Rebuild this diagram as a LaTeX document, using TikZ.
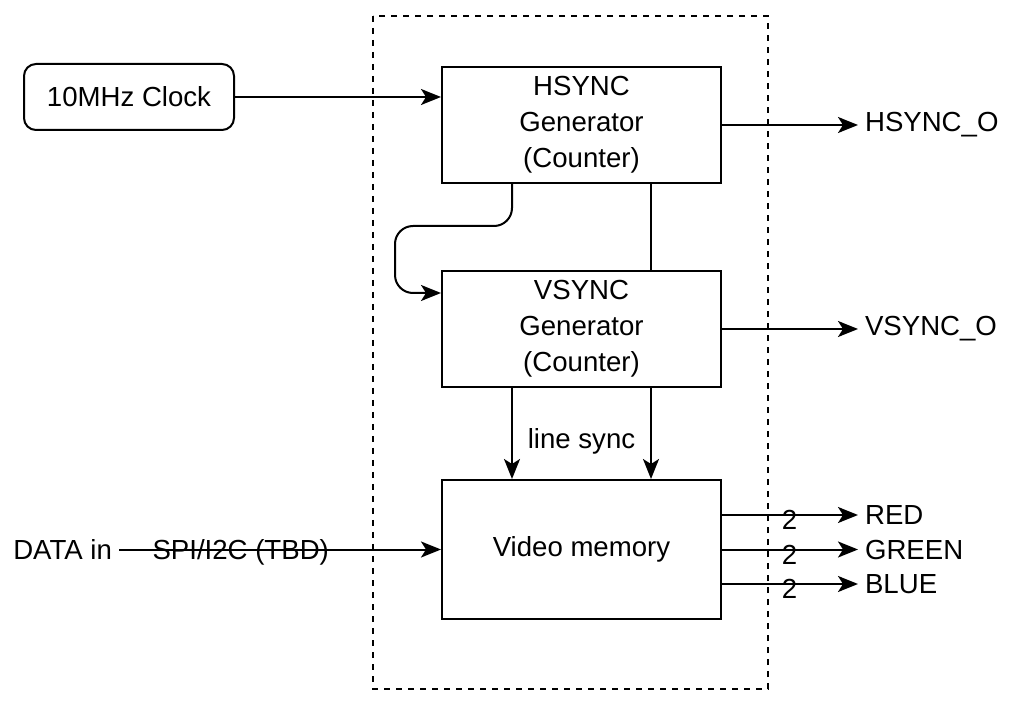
\documentclass[tikz,border=0pt]{standalone}
\usepackage{fontspec}
\setmainfont{Liberation Sans}
\usetikzlibrary{arrows.meta,positioning}
\tikzset{
  >={Stealth[length=10pt,width=8pt,inset=2.5pt]},
  block/.style={draw,line width=1pt,minimum width=139.5pt,minimum height=58pt,
    align=center,inner sep=0pt,font=\fontsize{13.8}{18}\selectfont},
  clock/.style={draw,line width=1pt,rounded corners=6pt,minimum width=105pt,
    minimum height=33pt,font=\fontsize{13.8}{18}\selectfont},
  flow/.style={->,line width=1pt},
  wire/.style={line width=1pt},
  tag/.style={font=\fontsize{13.8}{16}\selectfont},
  frame/.style={draw,dashed,dash pattern=on 3pt off 3pt,line width=1pt},
}
\begin{document}
\begin{tikzpicture}[x=0.5pt,y=-0.5pt]
  \useasboundingbox (0,0) rectangle (1024,711);
  % core frame
  \draw[frame] (373,16) rectangle (768,689);
  % blocks
  \node[block] (hsync) at (581.5,125) {HSYNC\\Generator\\(Counter)};
  \node[block,below=43pt of hsync] (vsync) {VSYNC\\Generator\\(Counter)};
  \node[block,below=45.5pt of vsync,minimum height=69.5pt] (mem) {Video memory};
  \node[clock] (clk) at (129,97) {10MHz Clock};
  % outputs
  \node[tag,anchor=west] (hso) at (858,125) {HSYNC\_O};
  \node[tag,anchor=west] (vso) at (858,329) {VSYNC\_O};
  \node[tag,anchor=west] (red) at (858,515) {RED};
  \node[tag,anchor=west] (green) at (858,549.5) {GREEN};
  \node[tag,anchor=west] (blue) at (858,584) {BLUE};
  \node[tag,anchor=east] (din) at (119,549.5) {DATA in};
  % connections
  \draw[flow] (clk) -- (hsync.west |- clk);
  \draw[flow] (hsync.east |- hso) -- (hso);
  \draw[flow] (vsync.east |- vso) -- (vso);
  \draw[flow,rounded corners=9pt] ([xshift=-34.75pt]hsync.south) -- ++(0,-21pt)
    -| ([xshift=-23pt,yshift=18pt]vsync.west) -- ([yshift=18pt]vsync.west);
  \draw[wire] ([xshift=34.75pt]hsync.south) -- ([xshift=34.75pt]vsync.north);
  \draw[flow] ([xshift=-34.75pt]vsync.south) -- ([xshift=-34.75pt]mem.north);
  \draw[flow] ([xshift=34.75pt]vsync.south) -- ([xshift=34.75pt]mem.north);
  \path (vsync.south) -- node[tag,yshift=-4pt] (lsync) {line sync} (mem.north);
  \draw[flow] (din) -- node[tag,pos=0.378,yshift=-1.5pt] (bus) {SPI/I2C (TBD)} (mem.west |- din);
  \foreach \c in {red,green,blue}
    \draw[flow] (mem.east |- \c.west) -- node[tag,pos=0.496,yshift=-2.5pt] {2} (\c.west);
\end{tikzpicture}
\end{document}
